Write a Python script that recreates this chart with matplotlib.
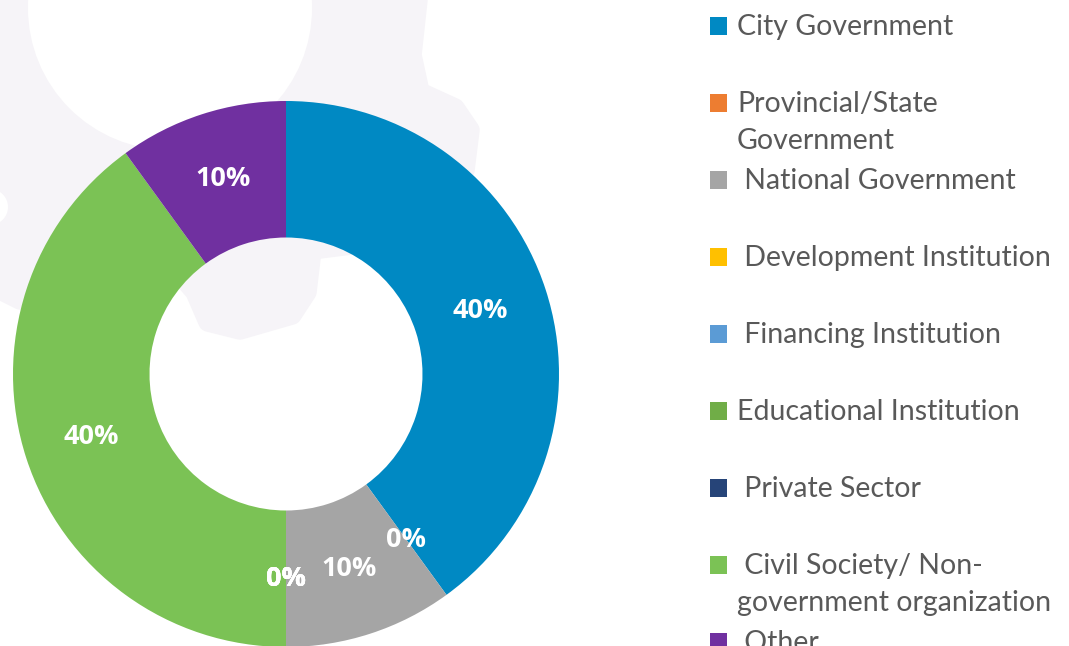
import matplotlib
matplotlib.use('Agg')
import matplotlib.pyplot as plt
from matplotlib.patches import Polygon, Circle, Rectangle

# data
categories = ['City Government', 'Provincial/State\nGovernment', ' National Government',
              ' Development Institution', ' Financing Institution', 'Educational Institution',
              ' Private Sector', ' Civil Society/ Non-\ngovernment organization', ' Other']
shares = [40, 0, 10, 0, 0, 0, 0, 40, 10]
colors = ['#0089C3', '#ED7D31', '#A5A5A5', '#FFC000', '#5B9BD5',
          '#70AD47', '#264478', '#7BC255', '#7030A0']

plt.rcParams['font.family'] = ['Lato', 'DejaVu Sans']

W, H = 1069, 646
fig = plt.figure(figsize=(W / 100, H / 100), dpi=100)

# faint background shape (pixel coords, y from top)
bg = fig.add_axes([0, 0, 1, 1], zorder=0)
bg.set_xlim(0, W)
bg.set_ylim(H, 0)
bg.axis('off')
shape = [(0, 0), (418, 0), (412, 55), (420, 92), (455, 108), (470, 130), (465, 170),
         (430, 235), (312, 250), (307, 292), (292, 315), (240, 330), (208, 322),
         (195, 292), (150, 240), (60, 290), (20, 300), (0, 290)]
bg.add_patch(Polygon(shape, closed=True, facecolor='#F6F4F8', edgecolor='#F6F4F8',
                     linewidth=14, joinstyle='round'))
bg.add_patch(Circle((170, 8), 142, facecolor='white', edgecolor='none'))
bg.add_patch(Circle((-10, 207), 18, facecolor='white', edgecolor='none'))

# donut
cx, cy, r = 286, 374, 273
ax = fig.add_axes([(cx - r) / W, (H - cy - r) / H, 2 * r / W, 2 * r / H], zorder=1)
wedges, texts, autotexts = ax.pie(shares, colors=colors, startangle=90, counterclock=False,
                                  radius=1, autopct='%.0f%%', pctdistance=0.75,
                                  wedgeprops=dict(width=0.5, linewidth=0),
                                  textprops=dict(color='white', fontsize=19.5, fontweight='bold',
                                                 family=['Open Sans', 'DejaVu Sans']))
ax.set_xlim(-1, 1)
ax.set_ylim(-1, 1)
ax.axis('off')

# legend drawn by hand
lg = fig.add_axes([0, 0, 1, 1], zorder=2)
lg.set_xlim(0, W)
lg.set_ylim(H, 0)
lg.axis('off')
for i, (lab, col) in enumerate(zip(categories, colors)):
    base = 35 + 77 * i
    lg.add_patch(Rectangle((710, base - 18), 17, 18, facecolor=col, edgecolor='none'))
    for j, line in enumerate(lab.split('\n')):
        lg.text(737, base + 37 * j, line, fontsize=20.5, color='#595959', va='baseline', ha='left')

fig.savefig('out.png', dpi=100)
